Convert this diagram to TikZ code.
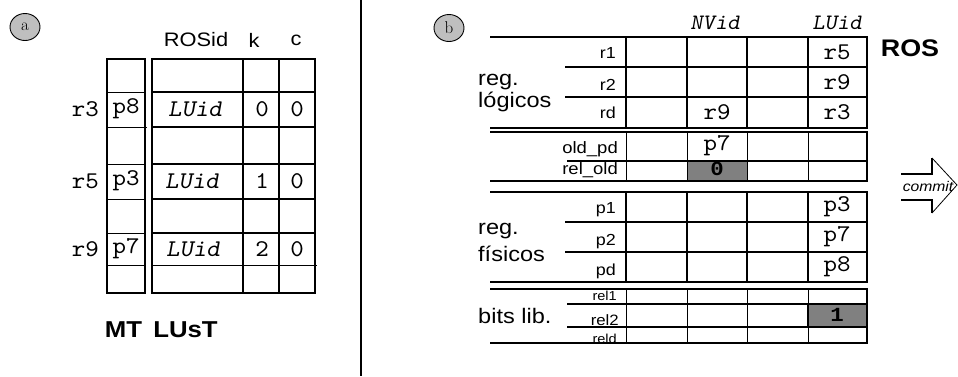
\documentclass[tikz,border=0pt]{standalone}
\usepackage{fontspec}
\usetikzlibrary{shapes.geometric}
\newfontfamily\lsans[FakeStretch=1.12]{Liberation Sans}
\newfontfamily\lmono[FakeStretch=1.07,Extension=.otf,UprightFont=lmmono10-regular,ItalicFont=lmmonoslant10-regular,BoldFont=lmmonolt10-bold]{lmmono10-regular}
\newfontfamily\lmonob[FakeStretch=1.12]{Liberation Mono}
\newcommand{\fsz}[1]{\fontsize{#1}{#1}\selectfont}
\begin{document}
\begin{tikzpicture}[x=1pt,y=-1pt,
  thk/.style={line width=1.6pt},
  thn/.style={line width=0.8pt},
  badge/.style={ellipse,draw,line width=0.9pt,fill=black!25,minimum width=30pt,minimum height=27pt,inner sep=0pt,font=\fsz{17}},
  hdr/.style={inner sep=0pt,font=\lsans\fsz{19.5}},
  cell/.style={inner sep=0pt,font=\lmono\fsz{24}},
  icell/.style={inner sep=0pt,font=\lmono\itshape\fsz{24}},
  bcell/.style={inner sep=0pt,font=\lmonob\bfseries\fsz{20}},
  title/.style={inner sep=0pt,font=\lsans\bfseries\fsz{23}},
  grp/.style={inner sep=0pt,anchor=base west,font=\lsans\fsz{21}},
  rowlab/.style={inner sep=0pt,anchor=base east,font=\lsans\fsz{#1}},
  shade/.style={fill=black!50}]
\useasboundingbox (0,0) rectangle (958,376);

% separator between the two panels
\draw[line width=1.2pt] (361,0) -- (361,376);

% ---------------- panel (a): MT and LUsT ----------------
\node[badge] (ba) at (25,27) {a};

\node[hdr] (hrosid) at (196,40) {ROSid};
\node[hdr] (hk) at (254,40) {k};
\node[hdr] (hc) at (296,40) {c};

% MT column
\draw[thk] (107,59) rectangle (145,293);
\foreach \y in {92,127,164,199,233,265} \draw[thn] (107,\y) -- (145,\y);
\draw[thn] (145,127) -- (147,127);

% LUsT table
\draw[thk] (152,59) rectangle (315,293);
\draw[thk] (243,59) -- (243,293);
\draw[thk] (279,59) -- (279,293);
\foreach \y in {92,127,164,199,233} \draw[thk] (152,\y) -- (315,\y);
\draw[thn] (152,265) -- (317,265);

% row names
\node[cell,anchor=east] (ar3) at (99,109) {r3};
\node[cell,anchor=east] (ar5) at (99,181) {r5};
\node[cell,anchor=east] (ar9) at (99,249) {r9};

% MT entries
\node[cell] (mp8) at (126,109) {p8};
\node[cell] (mp3) at (126,181) {p3};
\node[cell] (mp7) at (126,249) {p7};

% LUsT entries
\node[icell] (l1) at (195,109) {LUid};
\node[icell] (l2) at (192,181) {LUid};
\node[icell] (l3) at (193,249) {LUid};
\node[cell] (k1) at (262,109) {0};
\node[cell] (k2) at (262,181) {1};
\node[cell] (k3) at (262,249) {2};
\node[cell] (c1) at (297,109) {0};
\node[cell] (c2) at (297,181) {0};
\node[cell] (c3) at (297,249) {0};

\node[title] (tmt) at (123.5,330) {MT};
\node[title] (tlust) at (185.5,330) {LUsT};

% ---------------- panel (b): ROS ----------------
\node[badge] (bb) at (449,28) {b};

\node[icell,font=\lmono\itshape\fsz{22}] (hnv) at (715,23) {NVid};
\node[icell,font=\lmono\itshape\fsz{22}] (hlu) at (837,23) {LUid};

% shaded cells
\fill[shade] (687,161) rectangle (747,181);
\fill[shade] (808,304) rectangle (867,327);

% section boundaries
\foreach \y in {37,128,132,181,192,282,289,343} \draw[thk] (490,\y) -- (868,\y);

% row separators
\foreach \y in {67,97,222,252} \draw[thk] (565,\y) -- (867,\y);
\foreach \y in {161,304,327} \draw[thk] (567,\y) -- (867,\y);

% column separators
\foreach \x in {626,687,747,808,867} {
  \draw[thk] (\x,37) -- (\x,128);
  \draw[thk] (\x,192) -- (\x,282);
}
\foreach \x in {626,687,747,808} {
  \draw[thn] (\x,132) -- (\x,181);
  \draw[thn] (\x,289) -- (\x,343);
}
\draw[thk] (867,132) -- (867,181);
\draw[thk] (867,289) -- (867,343);
\draw[thk] (808,304) rectangle (867,327);

% group names
\node[grp] (g1a) at (478,85) {reg.};
\node[grp] (g1b) at (478,107) {lógicos};
\node[grp] (g3a) at (478,234) {reg.};
\node[grp] (g3b) at (478,261) {físicos};
\node[grp] (g4) at (478,323) {bits lib.};

% row names
\node[rowlab=16] (nr1) at (616,58) {r1};
\node[rowlab=16] (nr2) at (616,90) {r2};
\node[rowlab=16] (nrd) at (616,118) {rd};
\node[rowlab=16.5] (nold) at (618,153) {old\_pd};
\node[rowlab=16.5] (nrel) at (618,174) {rel\_old};
\node[rowlab=16] (np1) at (616,213) {p1};
\node[rowlab=16] (np2) at (616,245) {p2};
\node[rowlab=16] (npd) at (616,275) {pd};
\node[rowlab=13] (nrel1) at (617,300) {rel1};
\node[rowlab=15] (nrel2) at (619,325) {rel2};
\node[rowlab=13] (nreld) at (617,343) {reld};

% entries
\node[cell] (e1) at (837,52) {r5};
\node[cell] (e2) at (837,82) {r9};
\node[cell] (e3) at (717,112) {r9};
\node[cell] (e4) at (837,112) {r3};
\node[cell] (e5) at (717,146) {p7};
\node[bcell] (e6) at (717,169) {0};
\node[cell] (e7) at (837,207) {p3};
\node[cell] (e8) at (837,237) {p7};
\node[cell] (e9) at (837,267) {p8};
\node[bcell] (e10) at (837,315) {1};

\node[title,font=\lsans\bfseries\fsz{24}] (ros) at (910,48) {ROS};

% commit arrow
\draw[thk] (901,174) -- (932,174) -- (932,158);
\draw[thk] (932,213) -- (932,200) -- (901,200);
\draw[thn] (932,158) -- (957,185) -- (932,213);
\node[inner sep=0pt,font=\lsans\itshape\fsz{14}] (commit) at (928,186) {commit};
\end{tikzpicture}
\end{document}
